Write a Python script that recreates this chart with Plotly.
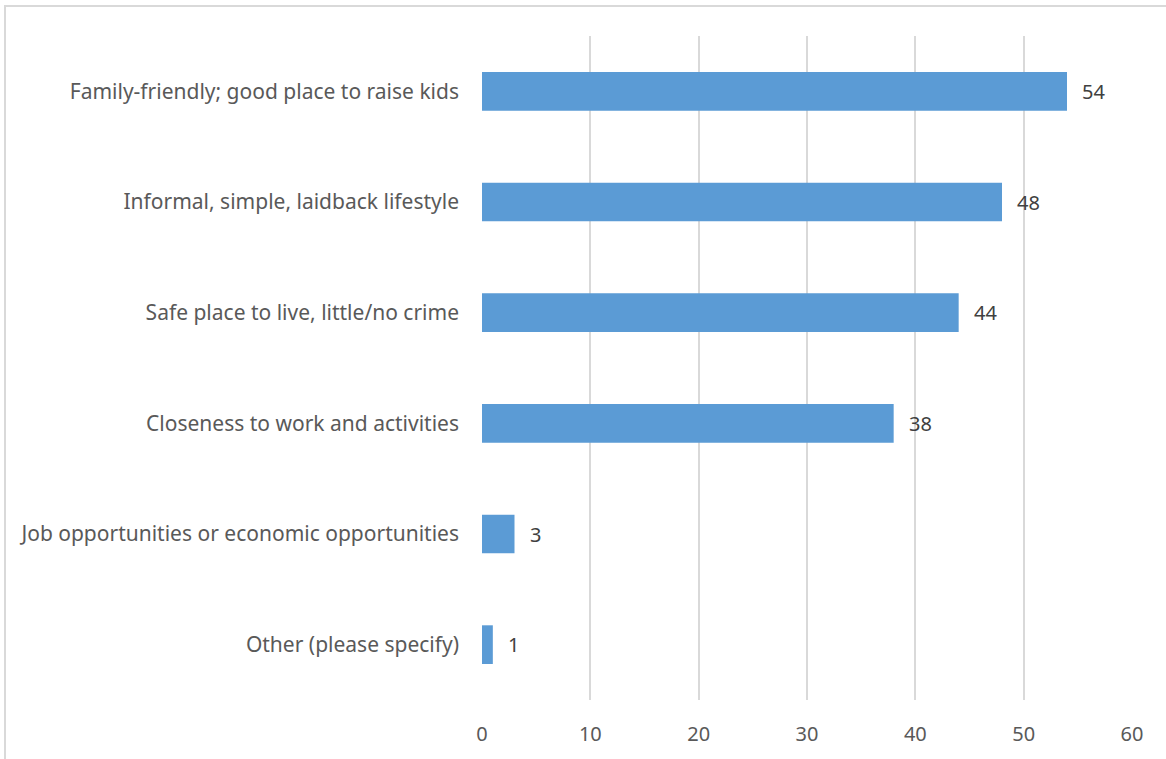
import plotly.graph_objects as go

categories = [
    "Family-friendly; good place to raise kids",
    "Informal, simple, laidback lifestyle",
    "Safe place to live, little/no crime",
    "Closeness to work and activities",
    "Job opportunities or economic opportunities",
    "Other (please specify)",
]
values = [54, 48, 44, 38, 3, 1]
x_ticks = [0, 10, 20, 30, 40, 50, 60]

W, H = 1166, 759
L, R, T, B = 482, 1132, 36, 700  # plot-area in page pixels

font = "Noto Sans"
fs = 20

fig = go.Figure(go.Bar(
    x=values, y=categories, orientation="h",
    marker=dict(color="#5B9BD5", line=dict(width=0)),
    width=0.35,
    hoverinfo="x+y",
))

for c, v in zip(categories, values):
    fig.add_annotation(x=v, y=c, text=str(v), showarrow=False, xanchor="left",
                       xshift=13, font=dict(size=fs, color="#404040", family=font))

fig.update_layout(
    width=W, height=H,
    margin=dict(l=L, r=W - R, t=T, b=H - B),
    paper_bgcolor="white", plot_bgcolor="white",
    font=dict(family=font, size=fs, color="#595959"),
    showlegend=False,
    xaxis=dict(range=[0, 60], tickvals=x_ticks, showgrid=True, gridcolor="#D9D9D9",
               gridwidth=1.5, zeroline=False, showline=False, ticks="",
               tickfont=dict(size=fs, color="#595959"), ticklabelstandoff=20),
    yaxis=dict(categoryorder="array", categoryarray=categories[::-1],
               showgrid=False, zeroline=False, showline=False, ticks="",
               tickfont=dict(size=21, color="#595959"), ticklabelstandoff=22),
    shapes=[dict(type="rect", xref="paper", yref="paper",
                 x0=(5 - L) / (R - L), x1=(W + 10 - L) / (R - L),
                 y0=(B - (H + 10)) / (B - T), y1=(B - 6) / (B - T),
                 line=dict(color="#D9D9D9", width=2), fillcolor="rgba(0,0,0,0)", layer="below")],
)
fig.write_html("out.html", config={"displayModeBar": False},
               post_script="document.body.style.margin='0';")
